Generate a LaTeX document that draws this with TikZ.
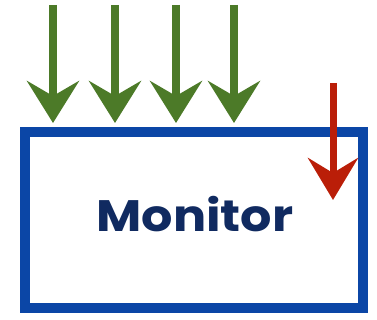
\documentclass[tikz,border=0pt]{standalone}
\usepackage{fontspec}
\setmainfont{Poppins}
\usetikzlibrary{arrows.meta,shadows}
\definecolor{arrgreen}{HTML}{4C7A28}
\definecolor{boxblue}{HTML}{0B46A6}
\definecolor{arrred}{HTML}{BA1E08}
\definecolor{txtnavy}{HTML}{102A60}
\begin{document}
\begin{tikzpicture}[x=1pt,y=-1pt,
  inarrow/.style={line width=8pt, draw=arrgreen, -{Stealth[length=42pt,width=52pt,inset=15pt]}},
  redarrow/.style={line width=7pt, draw=arrred, -{Stealth[length=42pt,width=50pt,inset=15pt]}},
  monbox/.style={draw=boxblue, line width=10pt, fill=white, minimum width=338pt, minimum height=176pt,
    drop shadow={opacity=0.25, shadow xshift=3pt, shadow yshift=-4pt}},
  montext/.style={text=txtnavy, font=\fontsize{44}{48}\selectfont\bfseries, xscale=1.12}]
\useasboundingbox (0,0) rectangle (377,320);
\node[monbox] (mon) at (194,220) {};
\node[montext] (lbl) at (195,214) {Monitor};
\foreach \i/\x in {1/53,2/115,3/176,4/234}{
  \coordinate (g\i s) at (\x,5);
  \coordinate (g\i e) at (\x,123);
  \draw[inarrow] (g\i s) -- (g\i e);
}
\coordinate (rs) at (333,83);
\coordinate (re) at (333,200);
\draw[redarrow] (rs) -- (re);
\end{tikzpicture}
\end{document}
